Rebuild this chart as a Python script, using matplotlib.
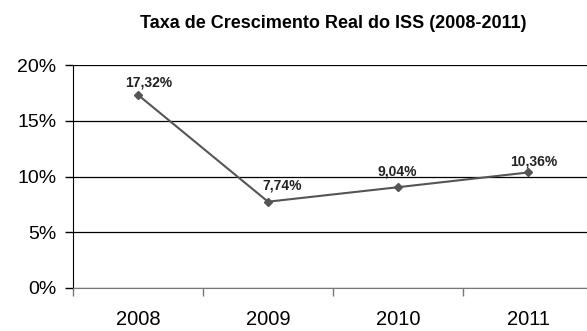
import matplotlib
matplotlib.use("Agg")
import matplotlib.pyplot as plt

plt.rcParams['font.family'] = ['Liberation Sans', 'DejaVu Sans']

years = ['2008', '2009', '2010', '2011']
growth = [17.32, 7.74, 9.04, 10.36]
labels = ['17,32%', '7,74%', '9,04%', '10,36%']
y_ticks = [0, 5, 10, 15, 20]
y_labels = ['0%', '5%', '10%', '15%', '20%']

fig = plt.figure(figsize=(5.87, 3.31), dpi=100)
ax = fig.add_axes([73 / 587, 43 / 331, 520 / 587, 223 / 331])

x = list(range(len(years)))
ax.plot(x, growth, color='#555555', linewidth=1.5, marker='D', markersize=4.5,
        markerfacecolor='#555555', markeredgecolor='#555555', zorder=3)

# label offsets in points (dx, dy)
offsets = [(8, 8.6), (10, 12), (-0.7, 11), (4.3, 8)]
for xi, yi, lab, off in zip(x, growth, labels, offsets):
    ax.annotate(lab, (xi, yi), xytext=off, textcoords='offset points',
                ha='center', va='center', fontsize=10, fontweight='bold', color='#222222')

ax.set_xlim(-0.5, 3.5)
ax.set_ylim(0, 20)
ax.set_yticks(y_ticks)
ax.set_yticklabels(y_labels, fontsize=14)
ax.yaxis.grid(True, color='black', linewidth=0.9)
ax.set_axisbelow(True)

ax.set_xticks([-0.5, 0.5, 1.5, 2.5, 3.5])
ax.set_xticklabels([])
ax.set_xticks(x, minor=True)
ax.set_xticklabels(years, minor=True, fontsize=14.5)
ax.tick_params(axis='x', which='minor', length=0, pad=16)
ax.tick_params(axis='x', which='major', length=6, color='#777777', width=1)
ax.tick_params(axis='y', length=6, width=1, pad=6)

for s in ['top', 'right']:
    ax.spines[s].set_visible(False)
ax.spines['bottom'].set_color('#777777')
ax.spines['left'].set_color('black')

fig.text(333 / 587, 1 - 28 / 331, 'Taxa de Crescimento Real do ISS (2008-2011)',
         ha='center', va='baseline', fontsize=13, fontweight='bold')

fig.savefig('out.png', dpi=100)
